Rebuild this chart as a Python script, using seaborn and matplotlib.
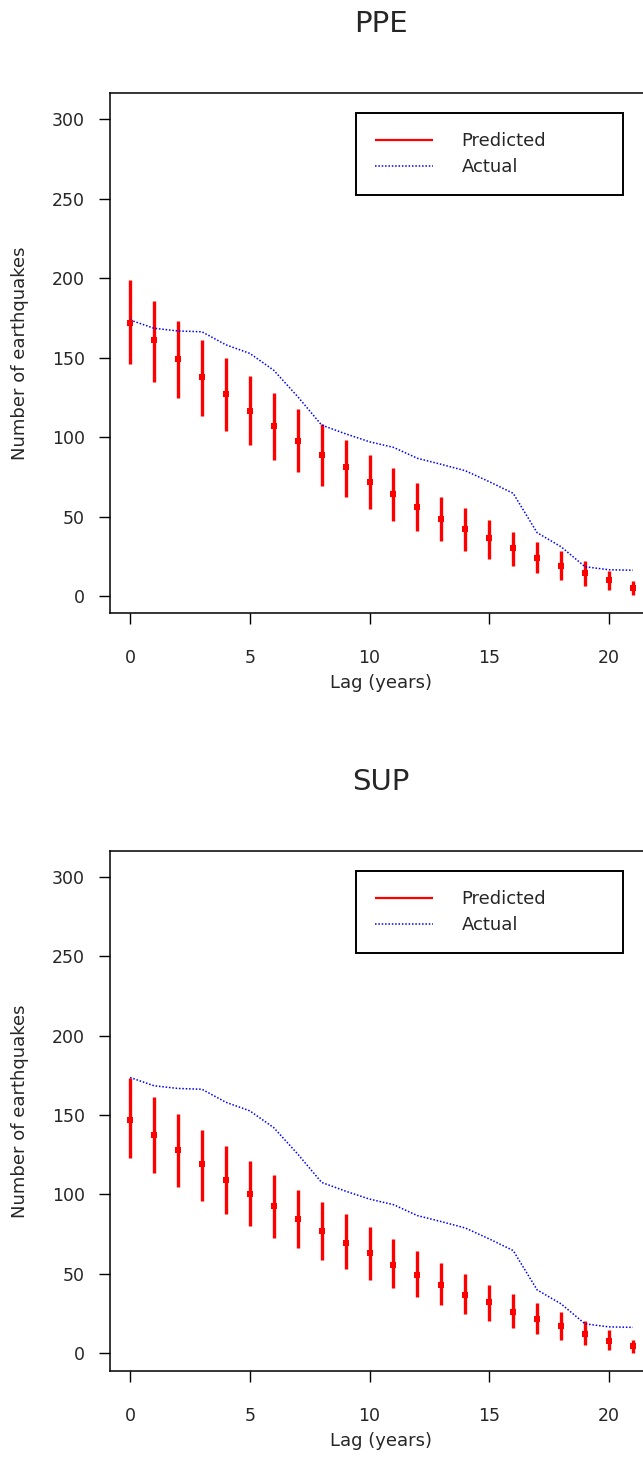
import matplotlib
matplotlib.use("Agg")
import matplotlib.pyplot as plt
from matplotlib.transforms import ScaledTranslation
import numpy as np
import pandas as pd
import seaborn as sns

# lag in years
lags = list(range(22))

# actual counts (same for both panels)
actual = [173.6, 168.4, 166.7, 166.2, 158.0, 152.6, 142.0, 125.4, 107.5, 102.0,
          97.0, 93.5, 86.6, 82.8, 78.8, 71.9, 64.6, 39.8, 31.0, 18.4, 16.5, 16.2]

# PPE predictions: centre, upper, lower
ppe_mid = [172.0, 161.0, 148.9, 137.9, 127.0, 116.4, 107.1, 97.7, 88.7, 80.9,
           71.9, 64.0, 56.2, 48.4, 42.3, 36.3, 30.0, 23.7, 19.1, 14.7, 10.0, 5.0]
ppe_hi = [198.7, 185.7, 173.0, 161.0, 149.5, 138.6, 127.5, 117.4, 108.2, 98.1,
          88.7, 80.3, 71.3, 62.5, 55.2, 47.8, 40.4, 34.2, 28.5, 22.0, 15.9, 9.6]
ppe_lo = [146.0, 134.8, 124.3, 113.4, 104.0, 95.0, 85.5, 77.8, 69.4, 62.5,
          54.7, 47.4, 40.9, 34.6, 28.5, 23.3, 18.9, 14.3, 10.0, 6.5, 3.8, 0.6]

# SUP predictions: centre, upper, lower
sup_mid = [147.1, 137.3, 128.2, 118.8, 109.3, 100.0, 92.5, 84.7, 76.9, 69.3,
           63.3, 55.7, 49.4, 43.1, 36.8, 32.2, 25.9, 21.2, 16.8, 12.2, 7.6, 4.4]
sup_hi = [173.0, 161.4, 150.3, 140.4, 130.3, 120.9, 111.9, 103.0, 95.2, 87.3,
          79.4, 71.7, 64.1, 56.7, 50.0, 43.1, 37.4, 31.7, 25.9, 20.0, 14.8, 8.4]
sup_lo = [122.6, 113.5, 104.7, 95.6, 87.9, 80.0, 72.5, 66.2, 58.9, 52.8,
          46.3, 41.2, 35.3, 30.0, 24.8, 20.2, 16.0, 12.2, 8.4, 4.9, 2.1, 0.0]

panels = [
    ("PPE", ppe_mid, ppe_hi, ppe_lo),
    ("SUP", sup_mid, sup_hi, sup_lo),
]

sns.set_style("ticks")
plt.rcParams['font.family'] = ['DejaVu Sans']

W, H = 643, 1479
fig = plt.figure(figsize=(W / 100, H / 100), dpi=100)

# pixel boxes (left, top, right, bottom) for each panel
boxes = [(110, 93, 653, 613), (110, 851, 653, 1371)]
ylims = [(-10.7, 316.4), (-11.3, 316.3)]
axes = []

for (name, mid, hi, lo), box, ylim in zip(panels, boxes, ylims):
    l, t, r, b = box
    ax = fig.add_axes([l / W, 1 - b / H, (r - l) / W, (b - t) / H])

    df = pd.DataFrame({"lag": lags, "actual": actual, "mid": mid,
                       "hi": hi, "lo": lo})

    ax.vlines(df["lag"], df["lo"], df["hi"], color="#ff0000", lw=2.4,
              label="Predicted")
    sns.scatterplot(data=df, x="lag", y="mid", ax=ax, color="#ff0000",
                    marker="s", s=22, linewidth=0, legend=False, zorder=3)
    sns.lineplot(data=df, x="lag", y="actual", ax=ax, color="#0000ff",
                 lw=1.1, linestyle=(0, (1, 1.2)), label="Actual")

    ax.set_xlim(-0.84, 21.84)
    ax.set_ylim(*ylim)
    ax.set_xticks([0, 5, 10, 15, 20])
    ax.set_yticks([0, 50, 100, 150, 200, 250, 300])
    for s in ax.spines.values():
        s.set_visible(True)
        s.set_color("black")
        s.set_linewidth(1.1)
    ax.set_xlabel("")
    ax.set_ylabel("")

    # title and axis labels positioned like the original
    fig.text(381 / W, 1 - (t - 69) / H, name, ha="center", va="center",
             fontsize=21)
    fig.text(381 / W, 1 - (b + 70) / H, "Lag (years)", ha="center",
             va="center", fontsize=13)
    fig.text(20 / W, 1 - ((t + b) / 2) / H, "Number of earthquakes",
             ha="center", va="center", rotation=90, fontsize=13)

    leg = ax.legend(loc="upper left",
                    bbox_to_anchor=(356 / W, 1 - (t + 20) / H - 0.1,
                                    267 / W, 0.1),
                    bbox_transform=fig.transFigure, mode="expand",
                    fontsize=13, frameon=True, fancybox=False,
                    handlelength=3.2, handletextpad=1.6, borderpad=1.05,
                    labelspacing=0.45, borderaxespad=0)
    leg.legend_handles[0].set_linewidth(1.6)
    fr = leg.get_frame()
    fr.set_edgecolor("black")
    fr.set_linewidth(1.4)
    fr.set_alpha(1)

    ax.xaxis.set_tick_params(direction="out", length=8, width=1,
                             color="black", labelsize=12.5, pad=18,
                             bottom=True)
    ax.yaxis.set_tick_params(direction="out", length=8, width=1,
                             color="black", labelsize=12.5, pad=10,
                             left=True)
    axes.append((ax, b))

# make sure the x tick labels sit well below the axis, like the original
fig.canvas.draw()
for ax, b in axes:
    for tk in ax.xaxis.get_major_ticks():
        bb = tk.label1.get_window_extent()
        top_px = H - bb.y1
        delta = (b + 36) - top_px
        if abs(delta) > 1:
            tk.label1.set_transform(tk.label1.get_transform() +
                                    ScaledTranslation(0, -delta / 100,
                                                      fig.dpi_scale_trans))

fig.savefig("out.png", dpi=100)
